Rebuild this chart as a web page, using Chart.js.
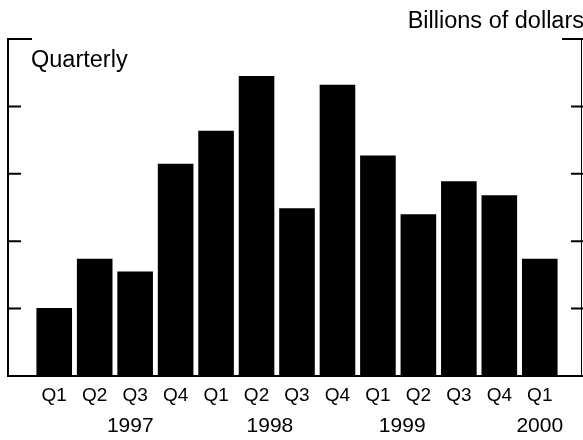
<!DOCTYPE html>
<html>
<head>
<meta charset="utf-8">
<script src="https://cdn.jsdelivr.net/npm/chart.js@4"></script>
<style>
    body { margin: 0; background: #fff; }
    #wrap { width: 583px; height: 440px; position: relative; }
</style>
</head>
<body>
<div id="wrap"><canvas id="chart"></canvas></div>
<script>
// Quarterly values, billions of dollars
const quarters = ['Q1', 'Q2', 'Q3', 'Q4', 'Q1', 'Q2', 'Q3', 'Q4', 'Q1', 'Q2', 'Q3', 'Q4', 'Q1'];
const values = [10.1, 17.4, 15.5, 31.5, 36.4, 44.5, 24.9, 43.2, 32.7, 24.0, 28.9, 26.8, 17.4];
const years = ['1997', '1998', '1999', '2000'];
// where each year label sits, in category units
const yearAt = [1.88, 5.33, 8.6, 12];
const yTicks = [0, 10, 20, 30, 40, 50];

const FONT = '"Liberation Sans", Arial, Helvetica, sans-serif';

// frame, tick marks and extra text
const framePlugin = {
    id: 'frame',
    afterDraw(chart) {
        const c = chart.ctx;
        const y = chart.scales.y;
        const x = chart.scales.x;
        const top = y.getPixelForValue(yTicks[yTicks.length - 1]);
        const bottom = y.getPixelForValue(0);
        const leftX = 8, rightX = 581.5;

        c.save();
        c.strokeStyle = '#000';
        c.lineWidth = 2;
        c.beginPath();
        c.moveTo(leftX, top - 1);
        c.lineTo(leftX, bottom);
        c.lineTo(583, bottom);
        c.stroke();

        c.lineWidth = 1;
        c.beginPath();
        c.moveTo(rightX, top);
        c.lineTo(rightX, bottom);
        c.stroke();

        // ticks
        c.lineWidth = 2;
        yTicks.slice(1).forEach(v => {
            const py = y.getPixelForValue(v);
            const long = v === yTicks[yTicks.length - 1];
            c.beginPath();
            c.moveTo(leftX, py);
            c.lineTo(leftX + (long ? 24 : 13), py);
            c.moveTo(583, py);
            c.lineTo(583 - (long ? 21 : 12), py);
            c.stroke();
        });

        c.fillStyle = '#000';
        c.textBaseline = 'alphabetic';
        c.font = '23.5px ' + FONT;
        c.textAlign = 'left';
        c.fillText('Quarterly', 31, 67);

        c.font = '23.5px ' + FONT;
        c.textAlign = 'right';
        c.fillText('Billions of dollars', 584, 28);

        c.font = '21px ' + FONT;
        c.textAlign = 'center';
        years.forEach((yr, i) => {
            c.fillText(yr, x.getPixelForValue(yearAt[i]), 432);
        });
        c.restore();
    }
};

const ctx = document.getElementById('chart').getContext('2d');
const chart = new Chart(ctx, {
    type: 'bar',
    data: {
        labels: quarters,
        datasets: [{
            data: values,
            backgroundColor: '#000',
            borderWidth: 0,
            barPercentage: 0.88,
            categoryPercentage: 1.0
        }]
    },
    options: {
        responsive: true,
        maintainAspectRatio: false,
        animation: false,
        layout: {
            padding: { left: 34, right: 23, top: 39, bottom: 0 }
        },
        scales: {
            x: {
                grid: { display: false, drawTicks: false },
                border: { display: false },
                ticks: {
                    color: '#000',
                    font: { family: FONT, size: 19 },
                    padding: 8,
                    maxRotation: 0,
                    autoSkip: false
                },
                afterFit(scale) { scale.height = 64; }
            },
            y: {
                display: false,
                min: 0,
                max: 50
            }
        },
        plugins: {
            legend: { display: false },
            tooltip: { enabled: false }
        }
    },
    plugins: [framePlugin]
});
</script>
</body>
</html>
